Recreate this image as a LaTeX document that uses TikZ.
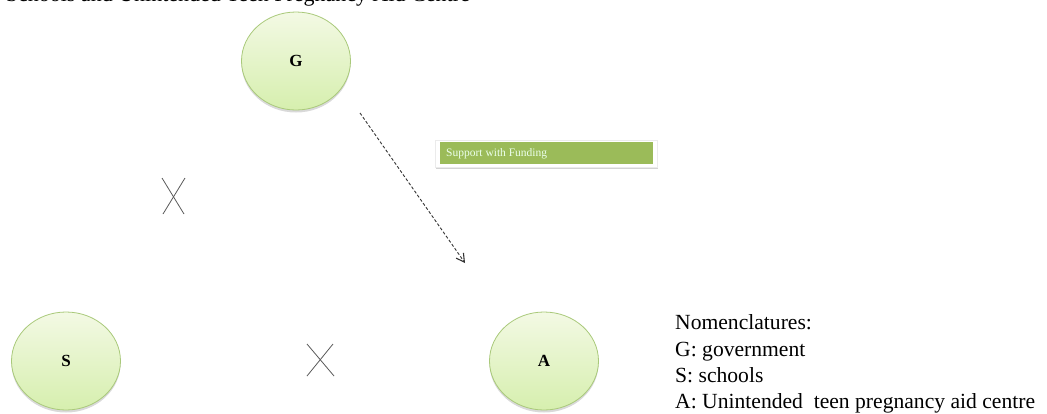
\documentclass[tikz,border=0pt]{standalone}
\usepackage{fontspec}
\setmainfont{Liberation Serif}
\usetikzlibrary{arrows.meta,shadows,calc,shapes.geometric}
\definecolor{ringedge}{HTML}{A9C97A}
\definecolor{ringtop}{HTML}{F3F9E4}
\definecolor{ringbot}{HTML}{D6EFAE}
\definecolor{labgreen}{HTML}{9BBB59}
\tikzset{
  actor/.style={ellipse,draw=ringedge,line width=0.8pt,top color=ringtop,bottom color=ringbot,
     minimum width=109pt,minimum height=98pt,inner sep=0pt,font=\fontsize{17}{17}\selectfont\bfseries,
     drop shadow={shadow xshift=0pt,shadow yshift=-2.5pt,opacity=0.3}},
  cross/.style={draw=black!65,line width=0.8pt},
  legend/.style={anchor=base west,inner sep=0pt,font=\fontsize{21.6}{21.6}\selectfont},
  flow/.style={densely dashed,line width=0.9pt,draw=black!80,-{Straight Barb[length=8pt,width=9pt,line width=1.1pt]}}
}
\begin{document}
\begin{tikzpicture}[x=1pt,y=-1pt]
\useasboundingbox (0,0) rectangle (1047,413);
\clip (0,0) rectangle (1047,413);
\node[anchor=base east,inner sep=0pt,font=\fontsize{22}{22}\selectfont] (title) at (470,1) {Relationship between Government, Schools and Unintended Teen Pregnancy Aid Centre};
\node[actor] (G) at (296,61) {G};
\node[actor] (S) at (66,361) {S};
\node[actor] (A) at (544,361) {A};
\coordinate (arrS) at (360,113);
\coordinate (arrE) at (465,263);
\draw[flow] (arrS) -- (arrE);
\node[draw=black!8,fill=white,minimum width=222pt,minimum height=27pt,inner sep=0pt,
   drop shadow={shadow xshift=1pt,shadow yshift=-2pt,opacity=0.35}] (labbox) at (546,153.5) {};
\node[fill=labgreen,minimum width=213pt,minimum height=22pt,inner sep=0pt] (lab) at (546,153) {};
\node[anchor=west,inner sep=0pt,text=white!92!green,font=\fontsize{11.5}{11.5}\selectfont] (labtext) at (446,153.5) {Support with Funding};
\coordinate (x1) at (174,196);
\draw[cross] ($(x1)+(-12,-18)$) -- ($(x1)+(10,18)$);
\draw[cross] ($(x1)+(11,-18)$) -- ($(x1)+(-11,18)$);
\coordinate (x2) at (320,360);
\draw[cross] ($(x2)+(-13,-16)$) -- ($(x2)+(14,16)$);
\draw[cross] ($(x2)+(13,-16)$) -- ($(x2)+(-13,16)$);
\node[legend] (n0) at (675,329) {Nomenclatures:};
\node[legend] (n1) at (675,356) {G: government};
\node[legend] (n2) at (675,382) {S: schools};
\node[legend] (n3) at (675,408) {A: Unintended\ \ teen pregnancy aid centre};
\end{tikzpicture}
\end{document}
